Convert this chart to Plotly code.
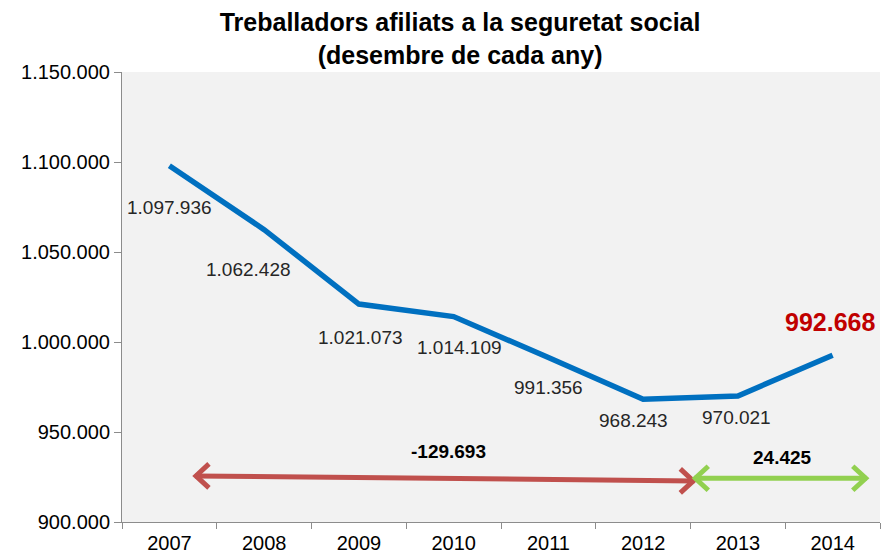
import plotly.graph_objects as go

years = ["2007", "2008", "2009", "2010", "2011", "2012", "2013", "2014"]
afiliats = [1097936, 1062428, 1021073, 1014109, 991356, 968243, 970021, 992668]
y_ticks = [900000, 950000, 1000000, 1050000, 1100000, 1150000]
diff_crisi = -129693
diff_recup = 24425


def fmt(v):
    return f"{v:,}".replace(",", ".")


# label offsets (pixels) for each data label
label_shift = [(0, -42), (-16, -40), (2, -33), (6, -31), (0, -30), (-10, -21), (-1, -22)]

fig = go.Figure()
fig.add_trace(go.Scatter(
    x=years, y=afiliats, mode="lines",
    line=dict(color="#0070C0", width=5.5),
    hoverinfo="skip", showlegend=False,
))

FONT = "Liberation Sans, Arial, sans-serif"

annotations = []
for i, v in enumerate(afiliats):
    if i < len(label_shift):
        dx, dy = label_shift[i]
        annotations.append(dict(
            x=i, y=v, text=fmt(v), showarrow=False, xshift=dx, yshift=dy,
            font=dict(family=FONT, size=19, color="#262626"),
        ))
    else:
        annotations.append(dict(
            x=i, y=v, text="<b>" + fmt(v) + "</b>", showarrow=False, xshift=-3, yshift=33,
            font=dict(family=FONT, size=25, color="#C00000"),
        ))

# arrow geometry (category index positions / values)
red_x0, red_x1 = 0.27, 5.54
red_y0, red_y1 = 925600, 922800
green_x0, green_x1 = 5.54, 7.36
green_y = 924300

shapes = []


def double_arrow(x0, y0, x1, y1, color):
    shapes.append(dict(type="line", xref="x", yref="y", x0=x0, y0=y0, x1=x1, y1=y1,
                       line=dict(color=color, width=5)))
    # chevron heads in pixel units anchored at the ends
    shapes.append(dict(type="path", xref="x", yref="y", xsizemode="pixel", ysizemode="pixel",
                       xanchor=x0, yanchor=y0, path="M 14 12 L 1 0 L 14 -12",
                       line=dict(color=color, width=5)))
    shapes.append(dict(type="path", xref="x", yref="y", xsizemode="pixel", ysizemode="pixel",
                       xanchor=x1, yanchor=y1, path="M -14 12 L -1 0 L -14 -12",
                       line=dict(color=color, width=5)))


double_arrow(red_x0, red_y0, red_x1, red_y1, "#C0504D")
double_arrow(green_x0, green_y, green_x1, green_y, "#92D050")

annotations.append(dict(x=(red_x0 + red_x1) / 2, y=red_y0, text="<b>" + fmt(diff_crisi) + "</b>",
                        showarrow=False, yshift=24, xshift=4,
                        font=dict(family=FONT, size=19, color="#000000")))
annotations.append(dict(x=(green_x0 + green_x1) / 2 + 0.02, y=green_y, text="<b>" + fmt(diff_recup) + "</b>",
                        showarrow=False, yshift=21,
                        font=dict(family=FONT, size=19, color="#000000")))

# the page body adds an 8px margin, so the figure is 8px smaller than the window
fig.update_layout(
    width=883, height=549,
    margin=dict(l=114, r=11, t=64, b=35),
    paper_bgcolor="#FFFFFF", plot_bgcolor="#F2F2F2",
    title=dict(text="<b>Treballadors afiliats a la seguretat social<br>(desembre de cada any)</b>",
               x=0.512, xanchor="center", y=1 - 23 / 549, yanchor="middle",
               font=dict(family=FONT, size=25, color="#000000")),
    xaxis=dict(type="category", showgrid=False, showline=True, linecolor="#8C8C8C", linewidth=1,
               ticks="outside", tickson="boundaries", ticklen=6, tickcolor="#8C8C8C",
               tickfont=dict(family=FONT, size=20, color="#000000"), range=[-0.5, 7.5],
               ticklabelstandoff=3, automargin=False),
    yaxis=dict(range=[900000, 1150000], tickvals=y_ticks, ticktext=[fmt(v) for v in y_ticks],
               showgrid=False, zeroline=False, showline=True, linecolor="#8C8C8C", linewidth=1,
               ticks="outside", ticklen=7, tickcolor="#8C8C8C",
               tickfont=dict(family=FONT, size=20, color="#000000"), automargin=False),
    shapes=shapes, annotations=annotations,
)

fig.write_html("out.html")
